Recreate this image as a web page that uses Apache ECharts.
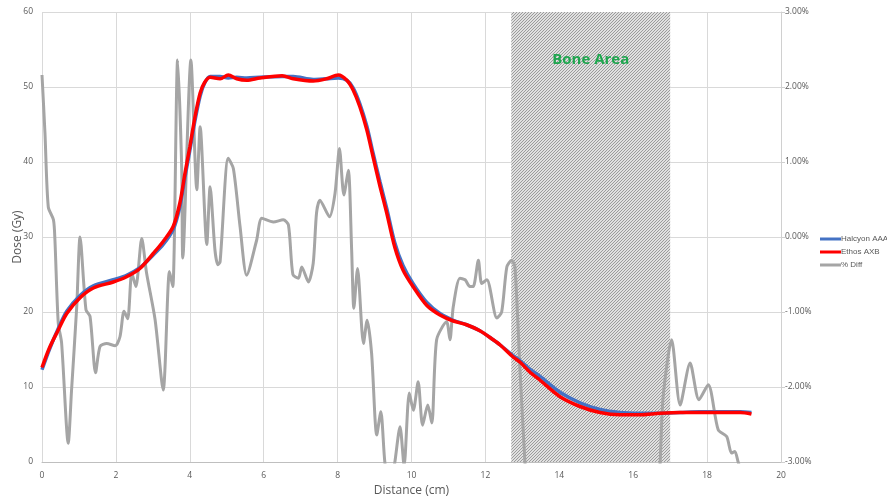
<!DOCTYPE html>
<html>
<head>
<meta charset="utf-8">
<script src="https://cdn.jsdelivr.net/npm/echarts@6/dist/echarts.min.js"></script>
<style>
  html, body { margin: 0; padding: 0; background: #fff; }
  #chart { width: 887px; height: 502px; }
</style>
</head>
<body>
<div id="chart"></div>
<script>
// Depth positions (cm) at which both dose profiles are sampled
const doseDistance = [0, 0.2, 0.44, 0.67, 1.03, 1.39, 1.93, 2.29, 2.65, 3.01, 3.28, 3.55, 3.73, 3.87, 4.0, 4.14, 4.28, 4.4, 4.55, 4.82, 5.04, 5.27, 5.54, 5.9, 6.5, 6.8, 7.34, 7.7, 8.02, 8.25, 8.42, 8.6, 8.79, 8.96, 9.15, 9.33, 9.55, 9.77, 10.04, 10.41, 10.77, 11.13, 11.49, 11.85, 12.21, 12.4, 12.75, 12.94, 13.2, 13.48, 14.02, 14.56, 15.1, 15.64, 16.18, 16.72, 17.27, 17.8, 18.35, 18.9, 19.2];

// Dose (Gy) – Halcyon AAA
const halcyonDose = [12.3, 15.0, 17.8, 20.1, 22.2, 23.5, 24.3, 24.9, 25.9, 27.6, 29.0, 31.0, 34.0, 38.0, 41.5, 45.5, 48.8, 50.5, 51.4, 51.4, 51.2, 51.3, 51.2, 51.3, 51.4, 51.4, 51.0, 51.1, 51.2, 50.9, 49.9, 47.8, 44.8, 41.2, 37.3, 33.8, 29.2, 26.2, 23.8, 21.3, 19.8, 18.9, 18.3, 17.5, 16.3, 15.6, 14.2, 13.5, 12.4, 11.4, 9.3, 7.9, 7.0, 6.6, 6.5, 6.5, 6.6, 6.7, 6.7, 6.7, 6.6];

// Dose (Gy) – Ethos AXB
const ethosDose = [12.6, 15.2, 17.6, 19.8, 21.9, 23.2, 24.0, 24.7, 25.8, 27.8, 29.4, 31.4, 34.5, 38.5, 42.0, 46.0, 49.2, 50.6, 51.3, 51.1, 51.6, 51.1, 50.9, 51.2, 51.5, 51.1, 50.8, 51.1, 51.6, 50.9, 49.6, 47.4, 44.3, 40.7, 36.7, 33.2, 28.6, 25.6, 23.4, 20.9, 19.6, 18.8, 18.3, 17.5, 16.3, 15.6, 14.0, 13.3, 12.0, 10.9, 8.7, 7.4, 6.6, 6.3, 6.3, 6.5, 6.6, 6.6, 6.6, 6.6, 6.4];

// Positions (cm) of the percentage difference profile
const diffDistance = [0, 0.08, 0.17, 0.31, 0.35, 0.44, 0.53, 0.71, 0.8, 0.94, 1.03, 1.19, 1.3, 1.45, 1.57, 1.75, 1.98, 2.11, 2.22, 2.32, 2.43, 2.54, 2.7, 2.83, 3.06, 3.28, 3.45, 3.54, 3.67, 3.78, 3.81, 4.03, 4.19, 4.28, 4.46, 4.55, 4.68, 4.76, 4.82, 5.04, 5.18, 5.36, 5.54, 5.81, 5.95, 6.26, 6.53, 6.67, 6.79, 6.94, 7.03, 7.21, 7.34, 7.43, 7.52, 7.78, 7.93, 8.05, 8.17, 8.29, 8.38, 8.44, 8.54, 8.7, 8.8, 8.92, 9.06, 9.17, 9.28, 9.42, 9.55, 9.69, 9.8, 9.94, 10.05, 10.18, 10.3, 10.44, 10.55, 10.68, 10.95, 11.04, 11.13, 11.31, 11.45, 11.58, 11.67, 11.81, 11.9, 12.04, 12.31, 12.44, 12.58, 12.71, 12.8, 12.94, 13.07, 13.3, 16.5, 16.73, 16.81, 17.04, 17.27, 17.54, 17.78, 18.03, 18.3, 18.53, 18.66, 18.75, 18.84, 19.2];

// Percentage difference (%)
const diffPercent = [2.16, 1.39, 0.40, 0.23, -0.04, -1.15, -1.41, -2.75, -2.04, -0.93, 0.00, -0.97, -1.06, -1.81, -1.46, -1.42, -1.45, -1.33, -0.99, -1.09, -0.48, -0.66, -0.02, -0.48, -1.10, -2.04, -0.46, -0.66, 2.36, 0.94, -0.28, 2.36, 0.63, 1.47, -0.10, 0.67, -0.17, -0.37, -0.33, 1.05, 0.91, 0.14, -0.51, -0.04, 0.25, 0.20, 0.23, 0.16, -0.50, -0.55, -0.40, -0.60, -0.35, 0.32, 0.49, 0.27, 0.58, 1.18, 0.56, 0.89, -0.17, -0.95, -0.42, -1.42, -1.11, -1.55, -2.64, -2.33, -3.01, -3.40, -3.00, -2.53, -3.05, -2.08, -2.31, -1.93, -2.51, -2.24, -2.48, -1.37, -1.13, -1.37, -0.93, -0.55, -0.57, -0.66, -0.66, -0.31, -0.62, -0.57, -1.08, -1.00, -0.40, -0.31, -0.40, -1.81, -3.00, -5.00, -5.00, -3.00, -2.13, -1.37, -2.24, -1.68, -2.17, -1.97, -2.57, -2.66, -2.88, -2.86, -3.00, -3.60];

// Bone region extent (cm) and its caption
const boneRange = [12.7, 17.0];
const boneLabel = 'Bone Area';

const seriesNames = ['Halcyon AAA', 'Ethos AXB', '% Diff'];
const distanceTicks = { min: 0, max: 20, interval: 2 };
const doseTicks = { min: 0, max: 60, interval: 10 };
const diffTicks = { min: -3, max: 3, interval: 1 };

function zip(xs, ys) { return xs.map((x, i) => [x, ys[i]]); }

// Fine pixel hatch used to shade the bone region
function hatchPattern() {
  const n = 3;
  const c = document.createElement('canvas');
  c.width = n; c.height = n;
  const g = c.getContext('2d');
  const img = g.createImageData(n, n);
  for (let y = 0; y < n; y++) {
    for (let x = 0; x < n; x++) {
      const dark = (x + y) % n === 0;
      const v = dark ? 155 : 224;
      const k = (y * n + x) * 4;
      img.data[k] = v; img.data[k + 1] = v; img.data[k + 2] = v; img.data[k + 3] = 255;
    }
  }
  g.putImageData(img, 0, 0);
  return c;
}

const axisText = { color: '#595959', fontSize: 8.5, fontFamily: 'Open Sans, sans-serif' };
const gridLine = { lineStyle: { color: '#d9d9d9', width: 1 } };

const chart = echarts.init(document.getElementById('chart'), null, { renderer: 'canvas' });
chart.setOption({
  animation: false,
  backgroundColor: '#ffffff',
  grid: { left: 42, right: 106, top: 12, bottom: 40, containLabel: false, outerBoundsMode: 'none' },
  legend: {
    orient: 'vertical',
    left: 820,
    top: 235,
    padding: 0,
    itemWidth: 21,
    itemHeight: 3,
    itemGap: 5,
    icon: 'rect',
    textStyle: { color: '#595959', fontSize: 8, fontFamily: 'Liberation Sans, sans-serif', padding: [0, 0, 0, -5] },
    data: seriesNames
  },
  xAxis: {
    type: 'value',
    min: distanceTicks.min, max: distanceTicks.max, interval: distanceTicks.interval,
    name: 'Distance (cm)',
    nameLocation: 'middle',
    nameGap: 23,
    nameMoveOverlap: false,
    nameTextStyle: { color: '#595959', fontSize: 12, fontFamily: 'Open Sans, sans-serif' },
    axisLine: { show: true, lineStyle: { color: '#bfbfbf' } },
    axisTick: { show: false },
    axisLabel: Object.assign({ margin: 9 }, axisText),
    splitLine: Object.assign({ show: true }, gridLine)
  },
  yAxis: [
    {
      type: 'value',
      min: doseTicks.min, max: doseTicks.max, interval: doseTicks.interval,
      name: 'Dose (Gy)',
      nameLocation: 'middle',
      nameGap: 18,
      nameMoveOverlap: false,
      nameTextStyle: { color: '#595959', fontSize: 12, fontFamily: 'Open Sans, sans-serif' },
      axisLine: { show: false },
      axisTick: { show: false },
      axisLabel: Object.assign({ margin: 9 }, axisText),
      splitLine: Object.assign({ show: true }, gridLine)
    },
    {
      type: 'value',
      position: 'right',
      min: diffTicks.min, max: diffTicks.max, interval: diffTicks.interval,
      axisLine: { show: true, lineStyle: { color: '#d0d0d0' } },
      axisTick: { show: true, length: 4, lineStyle: { color: '#d0d0d0' } },
      axisLabel: Object.assign({ margin: 4, formatter: v => v.toFixed(2) + '%' }, axisText),
      splitLine: { show: false }
    }
  ],
  series: [
    {
      name: seriesNames[2],
      type: 'line',
      yAxisIndex: 1,
      z: 2,
      data: zip(diffDistance, diffPercent),
      showSymbol: false,
      smooth: 0.25,
      clip: true,
      lineStyle: { color: '#a5a5a5', width: 3 },
      itemStyle: { color: '#a5a5a5' },
      markArea: {
        silent: true,
        z: 1,
        itemStyle: { color: { image: hatchPattern(), repeat: 'repeat' }, opacity: 1 },
        label: {
          show: true,
          position: 'insideTop',
          distance: 40,
          color: '#1fa64f',
          fontSize: 15,
          fontWeight: 'bold',
          fontFamily: 'Open Sans, sans-serif'
        },
        data: [[{ xAxis: boneRange[0], yAxis: diffTicks.max, name: boneLabel }, { xAxis: boneRange[1], yAxis: diffTicks.min }]]
      }
    },
    {
      name: seriesNames[0],
      type: 'line',
      z: 3,
      data: zip(doseDistance, halcyonDose),
      showSymbol: false,
      smooth: 0.3,
      lineStyle: { color: '#4472c4', width: 3.5 },
      itemStyle: { color: '#4472c4' }
    },
    {
      name: seriesNames[1],
      type: 'line',
      z: 4,
      data: zip(doseDistance, ethosDose),
      showSymbol: false,
      smooth: 0.3,
      lineStyle: { color: '#ff0000', width: 3.5 },
      itemStyle: { color: '#ff0000' }
    }
  ]
});
</script>
</body>
</html>
